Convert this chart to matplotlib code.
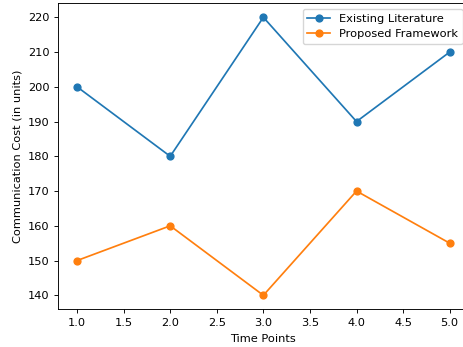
import matplotlib
matplotlib.use("Agg")
import matplotlib.pyplot as plt

# reference is a shrunk default figure, so scale everything down
s = 0.82
plt.rcParams['font.size'] = 10 * s
plt.rcParams['lines.linewidth'] = 1.5 * s
plt.rcParams['lines.markersize'] = 6 * s
plt.rcParams['axes.linewidth'] = 0.8 * s
plt.rcParams['xtick.major.width'] = 0.8 * s
plt.rcParams['ytick.major.width'] = 0.8 * s
plt.rcParams['xtick.major.size'] = 3.5 * s
plt.rcParams['ytick.major.size'] = 3.5 * s
plt.rcParams['legend.fontsize'] = 10 * s

time_points = [1, 2, 3, 4, 5]
existing = [200, 180, 220, 190, 210]
proposed = [150, 160, 140, 170, 155]

fig = plt.figure(figsize=(4.64, 3.47), dpi=100)
# right spine falls just past the image edge, as in the reference
ax = fig.add_axes([0.1259, 0.1089, 0.8834, 0.8813])

ax.plot(time_points, existing, marker='o', label='Existing Literature')
ax.plot(time_points, proposed, marker='o', label='Proposed Framework')

ax.set_xlabel('Time Points')
ax.set_ylabel('Communication Cost (in units)')
ax.legend()

fig.savefig('out.png', dpi=100)
